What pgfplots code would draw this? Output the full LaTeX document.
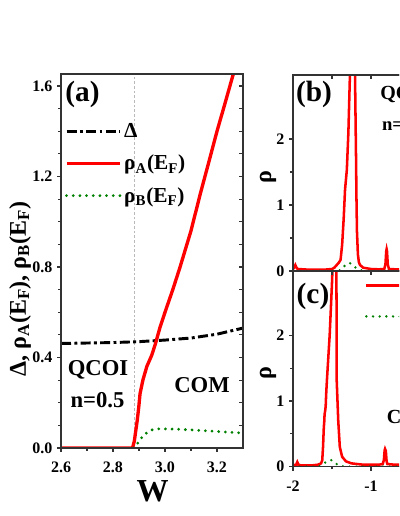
\documentclass[border=0pt]{standalone}
\usepackage{pgfplots}
\pgfplotsset{compat=1.18}
\usepackage{fontspec}
\setmainfont{Liberation Serif}
\definecolor{dgreen}{RGB}{0,128,0}

\pgfplotsset{
  panel/.style={
    scale only axis,
    axis line style={line width=0.9pt, black!80},
    every tick/.style={black!80, line width=0.8pt},
    major tick length=3pt, minor tick length=2pt,
    tick align=outside, tick pos=left,
    tick label style={font=\fontsize{12}{14}\selectfont\bfseries},
    xticklabel style={yshift=-4pt},
    /pgf/number format/assume math mode=true,
  },
  inpanel/.style={
    scale only axis,
    axis line style={line width=0.9pt, black!80},
    every tick/.style={black!80, line width=0.8pt},
    major tick length=3pt, minor tick length=3pt,
    tick align=inside, tick pos=right,
    xticklabels={}, yticklabels={},
    ticklabel style={text opacity=0},
  },
  deltaline/.style={black, line width=2.2pt, line cap=butt,
    dash pattern=on 7.5pt off 2.5pt on 2.2pt off 2.5pt},
  redline/.style={red, line width=2.5pt},
  greendot/.style={dgreen, line width=2.3pt, line cap=round,
    dash pattern=on 0pt off 5pt},
}

\begin{document}
\begin{tikzpicture}
\useasboundingbox (0,0) rectangle (299.25pt,387pt);
\clip (0,0) rectangle (299.25pt,387pt);

% ---------- panel (a) ----------
\begin{axis}[panel,
  at={(45.75pt,51pt)}, anchor=south west,
  width=136.5pt, height=280.5pt,
  xmin=2.6, xmax=3.3, ymin=0, ymax=1.653,
  xtick={2.6,2.8,3.0,3.2}, minor x tick num=1,
  ytick={0,0.4,0.8,1.2,1.6}, minor y tick num=3,
  xticklabel style={/pgf/number format/.cd, fixed, fixed zerofill, precision=1},
  yticklabel style={/pgf/number format/.cd, fixed, fixed zerofill, precision=1},
  legend cell align=left,
  legend style={draw=none, fill=none, at={(0.02,0.875)}, anchor=north west,
    font=\fontsize{16}{18}\selectfont\bfseries, row sep=7.5pt,
    inner xsep=0pt, inner ysep=0pt},
  legend image code/.code={\draw[#1] (0pt,0pt) -- (40pt,0pt);},
]
\addplot[gray!55, line width=0.5pt, dash pattern=on 2pt off 1.5pt, forget plot]
  coordinates {(2.881,0) (2.881,1.653)};
\addplot[deltaline] coordinates {
  (2.6,0.462) (2.7,0.464) (2.8,0.466) (2.9,0.470) (3.0,0.477)
  (3.1,0.486) (3.2,0.503) (3.3,0.530)};
\addlegendentry{Δ}
\addplot[redline] coordinates {
  (2.6,0) (2.875,0) (2.882,0.03) (2.888,0.08) (2.893,0.12) (2.899,0.18)
  (2.904,0.24) (2.915,0.30) (2.93,0.36) (2.949,0.41) (2.963,0.46)
  (2.98,0.53) (3.0,0.60) (3.03,0.70) (3.058,0.80) (3.1,0.96)
  (3.135,1.12) (3.17,1.27) (3.2,1.40) (3.23,1.52) (3.262,1.65) (3.28,1.72)};
\addlegendentry{ρ\textsubscript{A}(E\textsubscript{F})}
\addplot[greendot] coordinates {
  (2.878,0) (2.89,0.012) (2.90,0.03) (2.92,0.06) (2.95,0.080) (2.98,0.085)
  (3.05,0.083) (3.1,0.080) (3.2,0.073) (3.3,0.066)};
\addlegendentry{ρ\textsubscript{B}(E\textsubscript{F})}
\end{axis}
\begin{axis}[inpanel,
  at={(45.75pt,51pt)}, anchor=south west,
  width=136.5pt, height=280.5pt,
  xmin=2.6, xmax=3.3, ymin=0, ymax=1.653,
  xtick=\empty, ytick={0,0.4,0.8,1.2,1.6}, minor y tick num=3,
]
\end{axis}

% ---------- panel (b) ----------
\begin{axis}[panel,
  at={(219.75pt,183.75pt)}, anchor=south west,
  width=117pt, height=147pt,
  xmin=-2, xmax=0, ymin=0, ymax=2.97,
  xtick={-2,-1,0}, minor x tick num=1, xticklabels={},
  ytick={0,1,2}, minor y tick num=1,
]
\addplot[red, line width=1.9pt] coordinates {
  (-2.0,0.03) (-1.985,0.05) (-1.97,0.09) (-1.955,0.05) (-1.94,0.03)
  (-1.8,0.02) (-1.6,0.02) (-1.5,0.03) (-1.47,0.05) (-1.44,0.09)
  (-1.41,0.13) (-1.39,0.17) (-1.37,0.40) (-1.35,0.80) (-1.333,1.23)
  (-1.31,1.53) (-1.29,2.10) (-1.27,2.98) (-1.25,3.5) (-1.23,3.8)
  (-1.215,3.3) (-1.205,2.97) (-1.197,2.2) (-1.19,1.53) (-1.188,1.23)
  (-1.18,0.60) (-1.168,0.25) (-1.155,0.13) (-1.14,0.09) (-1.1,0.05)
  (-1.0,0.03) (-0.9,0.025) (-0.83,0.03) (-0.815,0.10) (-0.805,0.30)
  (-0.8,0.33) (-0.795,0.30) (-0.785,0.10) (-0.77,0.03) (-0.6,0.02)
  (-0.3,0.02) (0,0.02)};
\addplot[greendot, line width=2pt] coordinates {
  (-2,0) (-1.45,0) (-1.40,0.01) (-1.37,0.03) (-1.33,0.09) (-1.27,0.12)
  (-1.21,0.06) (-1.14,0.015) (-1.1,0) (0,0)};
\end{axis}
\begin{axis}[inpanel,
  at={(219.75pt,183.75pt)}, anchor=south west,
  width=117pt, height=147pt,
  xmin=-2, xmax=0, ymin=0, ymax=2.97,
  xtick={-2,-1,0}, minor x tick num=1, ytick=\empty,
]
\end{axis}

% ---------- panel (c) ----------
\begin{axis}[panel,
  at={(219.75pt,37pt)}, anchor=south west,
  width=117pt, height=146.8pt,
  xmin=-2, xmax=0, ymin=0, ymax=2.98,
  xtick={-2,-1,0}, minor x tick num=1,
  ytick={0,1,2}, minor y tick num=1,
  legend style={draw=none, fill=none, at={(0.46,0.97)}, anchor=north west,
    font=\fontsize{16}{18}\selectfont\bfseries, row sep=10pt,
    inner xsep=0pt, inner ysep=0pt},
  legend image code/.code={\draw[#1] (0pt,0pt) -- (40pt,0pt);},
]
\addplot[red, line width=1.9pt] coordinates {
  (-2.0,0.02) (-1.96,0.03) (-1.945,0.07) (-1.93,0.03) (-1.9,0.02)
  (-1.75,0.02) (-1.68,0.03) (-1.64,0.05) (-1.625,0.10) (-1.615,0.30)
  (-1.605,0.60) (-1.60,0.67) (-1.595,0.80) (-1.585,0.87) (-1.58,0.95)
  (-1.575,1.10) (-1.565,1.32) (-1.53,2.0) (-1.50,2.8) (-1.48,3.5)
  (-1.46,3.8) (-1.445,3.2) (-1.442,2.5) (-1.44,1.32) (-1.42,0.70)
  (-1.40,0.30) (-1.37,0.15) (-1.32,0.08) (-1.25,0.05) (-1.1,0.03)
  (-0.9,0.03) (-0.85,0.04) (-0.835,0.10) (-0.825,0.25) (-0.82,0.27)
  (-0.81,0.24) (-0.80,0.08) (-0.79,0.04) (-0.7,0.03) (0,0.03)};
\addlegendentry{ρ\textsubscript{A}}
\addplot[greendot, line width=2pt] coordinates {
  (-2,0) (-1.68,0) (-1.65,0.01) (-1.63,0.025) (-1.58,0.07) (-1.51,0.10)
  (-1.44,0.04) (-1.38,0.01) (-1.33,0) (0,0)};
\addlegendentry{ρ\textsubscript{B}}
\end{axis}
\begin{axis}[inpanel,
  at={(219.75pt,37pt)}, anchor=south west,
  width=117pt, height=146.8pt,
  xmin=-2, xmax=0, ymin=0, ymax=2.98,
  xtick={-2,-1,0}, minor x tick num=1, ytick=\empty,
]
\end{axis}

% ---------- text ----------
\begin{scope}[every node/.style={inner sep=0pt}]
\node[font=\fontsize{22}{24}\selectfont\bfseries] at (61.9pt,316.5pt) {(a)};
\node[font=\fontsize{17}{19}\selectfont\bfseries] at (73.5pt,109.5pt) {QCOI};
\node[font=\fontsize{17}{19}\selectfont\bfseries] at (73.1pt,87pt) {n=0.5};
\node[font=\fontsize{17}{19}\selectfont\bfseries] at (151.5pt,98.25pt) {COM};
\node[font=\fontsize{24}{26}\selectfont\bfseries] at (114.5pt,18.75pt) {W};
\node[font=\fontsize{18}{20}\selectfont\bfseries, rotate=90] at (15pt,170.25pt)
  {Δ, ρ\textsubscript{A}(E\textsubscript{F}), ρ\textsubscript{B}(E\textsubscript{F})};
\node[font=\fontsize{22}{24}\selectfont\bfseries] at (235.5pt,316.5pt) {(b)};
\node[font=\fontsize{15}{17}\selectfont\bfseries, anchor=west] at (285pt,315.75pt) {QCOI};
\node[font=\fontsize{14}{16}\selectfont\bfseries, anchor=west] at (286.3pt,294pt) {n=0.5};
\node[font=\fontsize{18}{20}\selectfont\bfseries, rotate=90] at (201pt,254.25pt) {ρ};
\node[font=\fontsize{22}{24}\selectfont\bfseries] at (234.75pt,165pt) {(c)};
\node[font=\fontsize{15}{17}\selectfont\bfseries, anchor=west] at (290pt,74.5pt) {COM};
\node[font=\fontsize{18}{20}\selectfont\bfseries, rotate=90] at (201pt,107.25pt) {ρ};
\end{scope}
\end{tikzpicture}
\end{document}
